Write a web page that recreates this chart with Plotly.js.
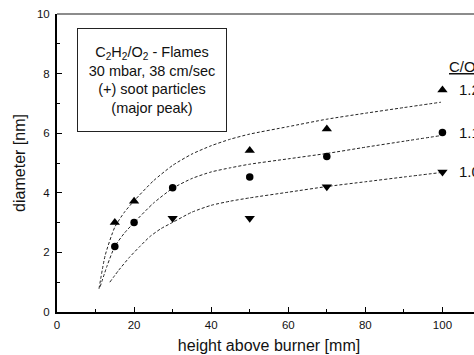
<!DOCTYPE html>
<html>
<head>
<meta charset="utf-8">
<script src="https://cdn.plot.ly/plotly-3.0.1.min.js"></script>
<style>
html,body{margin:0;padding:0;background:#fff;overflow:hidden;width:474px;height:355px;}
#chart{width:482px;height:355px;}
</style>
</head>
<body>
<div id="chart"></div>
<script>
// Measured points
var x12 = [15, 20, 50, 70, 100];
var y12 = [3.0, 3.72, 5.42, 6.14, 7.45];
var x11 = [15, 20, 30, 50, 70, 100];
var y11 = [2.2, 3.0, 4.17, 4.53, 5.22, 6.02];
var x10 = [30, 50, 70, 100];
var y10 = [3.15, 3.15, 4.2, 4.7];

// Dashed fit curves
var fitX12 = [10.9, 12.5, 15, 17.5, 20, 25, 30, 35, 40, 45, 50, 60, 70, 80, 90, 99.6];
var fitY12 = [0.78, 1.9, 2.85, 3.35, 3.73, 4.4, 4.92, 5.3, 5.58, 5.8, 5.97, 6.22, 6.47, 6.67, 6.86, 7.04];
var fitX11 = [11.2, 13, 15, 17.5, 20, 25, 30, 35, 40, 45, 50, 60, 70, 80, 90, 99.6];
var fitY11 = [0.85, 1.55, 2.2, 2.65, 3.0, 3.65, 4.15, 4.48, 4.7, 4.84, 4.96, 5.14, 5.32, 5.53, 5.73, 5.92];
var fitX10 = [13.7, 16, 18.9, 21.5, 24.1, 27, 29.9, 35, 40, 45, 50, 60, 70, 80, 90, 99.6];
var fitY10 = [1.0, 1.4, 1.85, 2.2, 2.53, 2.8, 3.0, 3.35, 3.58, 3.72, 3.83, 4.02, 4.21, 4.37, 4.53, 4.68];

var seriesLabels = ['1.2', '1.1', '1.0'];
var legendTitle = 'C/O';
var xTitle = 'height above burner [mm]';
var yTitle = 'diameter [nm]';
var boxText = 'C<sub>2</sub>H<sub>2</sub>/O<sub>2</sub> - Flames<br>30 mbar, 38 cm/sec<br>(+) soot particles<br>(major peak)';

var font = 'Liberation Sans, Arial, sans-serif';
var dashStyle = '3px,2px';

function fit(x, y) {
  return {x: x, y: y, mode: 'lines', type: 'scatter', hoverinfo: 'skip',
    line: {color: '#222', width: 1, dash: dashStyle, shape: 'spline', smoothing: 0.6}};
}
function pts(x, y, sym, size) {
  return {x: x, y: y, mode: 'markers', type: 'scatter',
    marker: {symbol: sym, size: size, color: '#000'}};
}

var data = [
  fit(fitX12, fitY12), fit(fitX11, fitY11), fit(fitX10, fitY10),
  pts(x12, y12, 'triangle-up', 9),
  pts(x11, y11, 'circle', 7.5),
  pts(x10, y10, 'triangle-down', 9)
];

var annotations = [
  {x: 24.6, y: 7.8, xref: 'x', yref: 'y', text: boxText, showarrow: false,
   xanchor: 'center', yanchor: 'middle', align: 'center', width: 148, height: 102,
   bordercolor: '#222', borderwidth: 1, borderpad: 0,
   font: {family: font, size: 14.5, color: '#111'}},
  {x: 101.2, y: 8.24, xref: 'x', yref: 'y', text: '<u>' + legendTitle + '</u>', showarrow: false,
   xanchor: 'left', yanchor: 'middle', font: {family: font, size: 15, color: '#111'}},
  {x: 103.7, y: y12[y12.length - 1], xref: 'x', yref: 'y', text: seriesLabels[0], showarrow: false,
   xanchor: 'left', yanchor: 'middle', font: {family: font, size: 15, color: '#111'}},
  {x: 103.7, y: y11[y11.length - 1], xref: 'x', yref: 'y', text: seriesLabels[1], showarrow: false,
   xanchor: 'left', yanchor: 'middle', font: {family: font, size: 15, color: '#111'}},
  {x: 103.7, y: y10[y10.length - 1], xref: 'x', yref: 'y', text: seriesLabels[2], showarrow: false,
   xanchor: 'left', yanchor: 'middle', font: {family: font, size: 15, color: '#111'}}
];

var layout = {
  width: 482, height: 355,
  margin: {l: 57, r: 1, t: 14, b: 43},
  paper_bgcolor: '#fff', plot_bgcolor: '#fff',
  showlegend: false,
  font: {family: font, color: '#111'},
  xaxis: {
    range: [0, 110], tickvals: [0, 20, 40, 60, 80, 100],
    showgrid: false, zeroline: false,
    showline: true, linecolor: '#000', linewidth: 2,
    ticks: 'inside', ticklen: 5, tickwidth: 1, tickcolor: '#000',
    minor: {tickvals: [10, 30, 50, 70, 90], ticks: 'inside', ticklen: 3, tickcolor: '#000', showgrid: false},
    tickfont: {size: 11.5, family: font, color: '#111'},
    ticklabelstandoff: 1,
    title: {text: xTitle, font: {size: 16, family: font, color: '#111'}, standoff: 10},
    automargin: false
  },
  yaxis: {
    range: [0, 10], tickvals: [0, 2, 4, 6, 8, 10],
    showgrid: false, zeroline: false,
    showline: true, linecolor: '#000', linewidth: 2,
    ticks: 'inside', ticklen: 5, tickwidth: 1, tickcolor: '#000',
    minor: {tickvals: [1, 3, 5, 7, 9], ticks: 'inside', ticklen: 3, tickcolor: '#000', showgrid: false},
    tickfont: {size: 11.5, family: font, color: '#111'},
    ticklabelstandoff: 3,
    title: {text: yTitle, font: {size: 16, family: font, color: '#111'}, standoff: 7},
    automargin: false
  },
  shapes: [
    {type: 'line', xref: 'paper', yref: 'paper', x0: 0, x1: 1, y0: 1, y1: 1,
     line: {color: '#666', width: 1.5}}
  ],
  annotations: annotations
};

Plotly.newPlot('chart', data, layout, {staticPlot: true, displayModeBar: false});
</script>
</body>
</html>
